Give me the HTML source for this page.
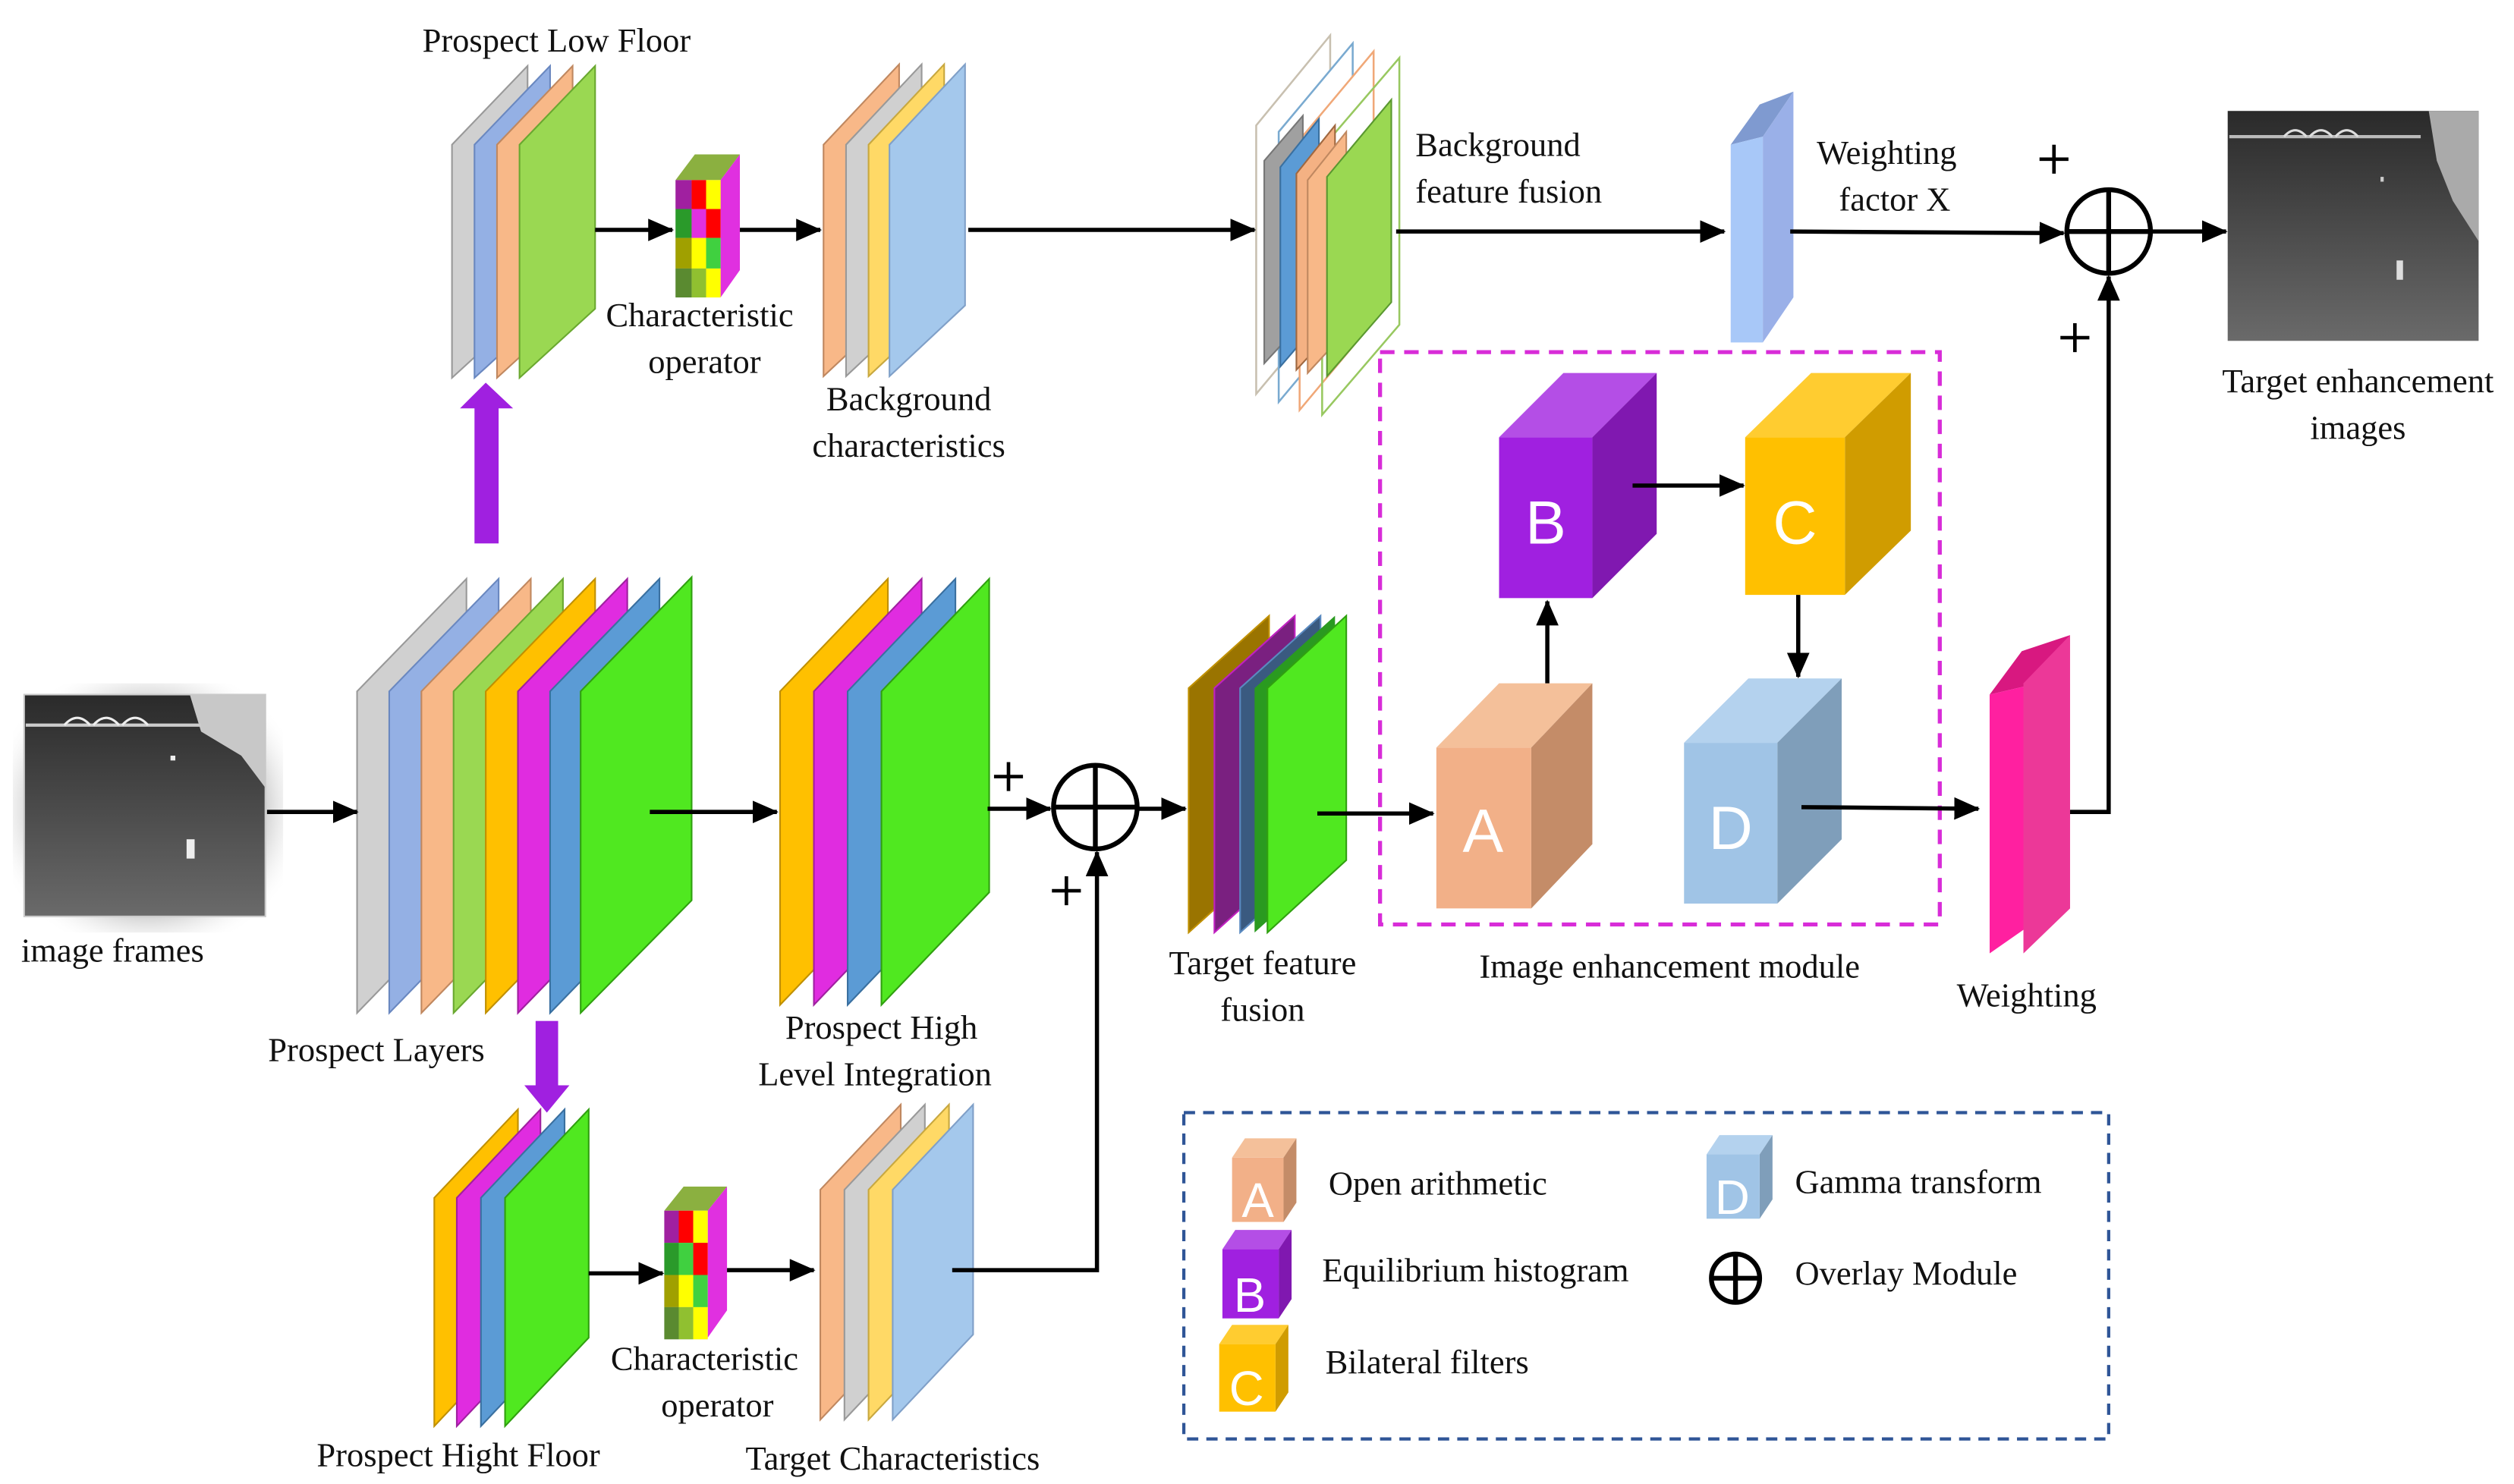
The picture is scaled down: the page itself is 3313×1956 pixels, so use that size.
<!DOCTYPE html>
<html><head><meta charset="utf-8"><style>
html,body{margin:0;padding:0;background:#fff}
svg{display:block}
.l text{font-family:"Liberation Serif","DejaVu Serif",serif;fill:#111;font-size:21px}
.c{font-family:"Liberation Sans","DejaVu Sans",sans-serif;fill:#fff;font-size:38px}
</style></head><body>
<svg width="3313" height="1956" viewBox="0 0 1563 923" preserveAspectRatio="none" xmlns="http://www.w3.org/2000/svg">
<defs>
<marker id="ah2" markerWidth="16" markerHeight="14" refX="15" refY="7" orient="auto" markerUnits="userSpaceOnUse"><path d="M0,0 L16,7 L0,14 z" fill="#000"/></marker>
<radialGradient id="sh" cx="50%" cy="50%" r="60%"><stop offset="70%" stop-color="#999" stop-opacity=".5"/><stop offset="100%" stop-color="#fff" stop-opacity="0"/></radialGradient>
<linearGradient id="img" x1="0" y1="0" x2="0" y2="1"><stop offset="0" stop-color="#2a2a2a"/><stop offset="1" stop-color="#6a6a6a"/></linearGradient>
</defs>
<rect width="1563" height="923" fill="#fff"/>

<!-- Prospect Low Floor -->
<g stroke-width="1">
<polygon points="281,235 281,90 328,41 328,192" fill="#d0d0d0" stroke="#999"/>
<polygon points="295,235 295,90 342,41 342,192" fill="#94b0e4" stroke="#6a88c0"/>
<polygon points="309,235 309,90 356,41 356,192" fill="#f8b888" stroke="#c08860"/>
<polygon points="323,235 323,90 370,41 370,192" fill="#9ad852" stroke="#6aa830"/>
</g>
<!-- Characteristic operator top -->
<g>
<polygon points="420,112 432,96 460,96 448,112" fill="#8bb040"/>
<polygon points="448,112 460,96 460,168 448,185" fill="#e030e0"/>
<rect x="420" y="112" width="28" height="73" fill="#ccc"/>
<rect x="420" y="112" width="10" height="18" fill="#a020a0"/><rect x="430" y="112" width="9" height="18" fill="#ff0000"/><rect x="439" y="112" width="9" height="18" fill="#ffff00"/>
<rect x="420" y="130" width="10" height="18" fill="#2a9a2a"/><rect x="430" y="130" width="9" height="18" fill="#e030e0"/><rect x="439" y="130" width="9" height="18" fill="#ff0000"/>
<rect x="420" y="148" width="10" height="19" fill="#a0a000"/><rect x="430" y="148" width="9" height="19" fill="#ffff00"/><rect x="439" y="148" width="9" height="19" fill="#40d040"/>
<rect x="420" y="167" width="10" height="18" fill="#5a8a30"/><rect x="430" y="167" width="9" height="18" fill="#90c030"/><rect x="439" y="167" width="9" height="18" fill="#ffff00"/>
</g>
<!-- Background characteristics -->
<polygon points="512,234 512,90 559,40 559,190" fill="#f8b888" stroke="#c08860"/>
<polygon points="526,234 526,90 573,40 573,190" fill="#d0d0d0" stroke="#999"/>
<polygon points="540,234 540,90 587,40 587,190" fill="#ffd966" stroke="#c8a840"/>
<polygon points="553,234 553,90 600,40 600,190" fill="#a4c8ec" stroke="#80a0c8"/>

<!-- Background feature fusion -->
<g fill="none" stroke-width="1.2">
<polygon points="781,245 781,78 827,22 827,190" stroke="#c8c0b0" fill="#fff"/>
<polygon points="795,250 795,82 841,27 841,195" stroke="#7aaad0" fill="#fff"/>
<polygon points="808,255 808,87 854,32 854,200" stroke="#f0a878" fill="#fff"/>
<polygon points="822,258 822,92 870,36 870,202" stroke="#98c860"/>
</g>
<polygon points="786,226 786,100 810,72 810,200" fill="#a0a0a0" stroke="#777"/>
<polygon points="796,228 796,104 820,74 820,200" fill="#5b9bd5" stroke="#3a70a0"/>
<polygon points="806,230 806,108 830,78 830,204" fill="#f4b183" stroke="#a06840"/>
<polygon points="813,232 813,112 837,82 837,206" fill="#f8b888" stroke="#c08860"/>
<polygon points="825,234 825,110 865,62 865,188" fill="#9ad852" stroke="#5a9830"/>

<!-- Weighting factor bar -->
<polygon points="1076,90 1094,65 1115,57 1096,85" fill="#7f9ad0"/>
<polygon points="1076,90 1096,85 1096,213 1076,213" fill="#a8c8f8"/>
<polygon points="1096,85 1115,57 1115,185 1096,213" fill="#9ab0e8"/>

<!-- Top right image -->
<rect x="1385" y="69" width="156" height="143" fill="url(#img)"/>
<polygon points="1510,69 1541,69 1541,150 1525,125 1515,100" fill="#aaa"/>
<path d="M1386,85 L1505,85" stroke="#bbb" stroke-width="2"/>
<path d="M1420,85 q7,-8 14,0 M1436,85 q7,-8 14,0 M1452,85 q7,-8 14,0" stroke="#ddd" fill="none" stroke-width="1.5"/>
<rect x="1490" y="162" width="4" height="12" fill="#ddd"/>
<rect x="1480" y="110" width="2" height="3" fill="#ccc"/>

<!-- Image frames -->
<rect x="8" y="425" width="168" height="155" fill="url(#sh)"/>
<rect x="15" y="432" width="150" height="138" fill="url(#img)" stroke="#ccc"/>
<polygon points="118,432 165,432 165,490 150,470 125,455" fill="#c8c8c8"/>
<path d="M16,451 L125,451" stroke="#ccc" stroke-width="2"/>
<path d="M40,451 q8,-9 16,0 M58,451 q8,-9 16,0 M76,451 q8,-9 16,0" stroke="#eee" fill="none" stroke-width="1.5"/>
<rect x="116" y="522" width="5" height="12" fill="#eee"/>
<rect x="106" y="470" width="3" height="3" fill="#eee"/>

<!-- Prospect Layers -->
<g>
<polygon points="222,630 222,430 290,360 290,560" fill="#d0d0d0" stroke="#999"/>
<polygon points="242,630 242,430 310,360 310,560" fill="#94b0e4" stroke="#6a88c0"/>
<polygon points="262,630 262,430 330,360 330,560" fill="#f8b888" stroke="#c08860"/>
<polygon points="282,630 282,430 350,360 350,560" fill="#9ad852" stroke="#6aa830"/>
<polygon points="302,630 302,430 370,360 370,560" fill="#ffc000" stroke="#c09000"/>
<polygon points="322,630 322,430 390,360 390,560" fill="#e02ce0" stroke="#a020a0"/>
<polygon points="342,630 342,430 410,360 410,560" fill="#5b9bd5" stroke="#3a70a0"/>
<polygon points="361,630 361,430 430,359 430,560" fill="#50e820" stroke="#30a010"/>
</g>
<!-- Prospect High Level Integration -->
<g>
<polygon points="485,625 485,430 552,360 552,555" fill="#ffc000" stroke="#c09000"/>
<polygon points="506,625 506,430 573,360 573,555" fill="#e02ce0" stroke="#a020a0"/>
<polygon points="527,625 527,430 594,360 594,555" fill="#5b9bd5" stroke="#3a70a0"/>
<polygon points="548,625 548,430 615,360 615,555" fill="#50e820" stroke="#30a010"/>
</g>
<!-- Target feature fusion -->
<g>
<polygon points="739,580 739,428 789,383 789,535" fill="#9a7400" stroke="#c09000"/>
<polygon points="755,580 755,428 805,383 805,535" fill="#7a2080" stroke="#c020c0"/>
<polygon points="771,580 771,428 821,383 821,535" fill="#3a5a80" stroke="#5a8ac0"/>
<polygon points="780,580 780,428 830,383 830,535" fill="#2a9a20"/>
<polygon points="788,580 788,428 837,383 837,535" fill="#50e820" stroke="#30a010"/>
</g>

<!-- Prospect Hight Floor -->
<polygon points="270,887 270,745 322,690 322,832" fill="#ffc000" stroke="#c09000"/>
<polygon points="284,887 284,745 336,690 336,832" fill="#e02ce0" stroke="#a020a0"/>
<polygon points="299,887 299,745 351,690 351,832" fill="#5b9bd5" stroke="#3a70a0"/>
<polygon points="314,887 314,745 366,690 366,832" fill="#50e820" stroke="#30a010"/>
<!-- Characteristic operator bottom -->
<g>
<polygon points="413,753 425,738 452,738 440,753" fill="#8bb040"/>
<polygon points="440,753 452,738 452,815 440,832" fill="#e030e0"/>
<rect x="413" y="753" width="27" height="80" fill="#ccc"/>
<rect x="413" y="753" width="9" height="20" fill="#a020a0"/><rect x="422" y="753" width="9" height="20" fill="#ff0000"/><rect x="431" y="753" width="9" height="20" fill="#ffff00"/>
<rect x="413" y="773" width="9" height="20" fill="#2a9a2a"/><rect x="422" y="773" width="9" height="20" fill="#40d040"/><rect x="431" y="773" width="9" height="20" fill="#ff0000"/>
<rect x="413" y="793" width="9" height="20" fill="#a0a000"/><rect x="422" y="793" width="9" height="20" fill="#ffff00"/><rect x="431" y="793" width="9" height="20" fill="#40d040"/>
<rect x="413" y="813" width="9" height="20" fill="#5a8a30"/><rect x="422" y="813" width="9" height="20" fill="#90c030"/><rect x="431" y="813" width="9" height="20" fill="#ffff00"/>
</g>
<!-- Target characteristics -->
<polygon points="510,883 510,740 560,687 560,830" fill="#f8b888" stroke="#c08860"/>
<polygon points="525,883 525,740 575,687 575,830" fill="#d0d0d0" stroke="#999"/>
<polygon points="540,883 540,740 590,687 590,830" fill="#ffd966" stroke="#c8a840"/>
<polygon points="555,883 555,740 605,687 605,830" fill="#a4c8ec" stroke="#80a0c8"/>

<!-- Dashed module box -->
<rect x="858" y="219" width="348" height="356" fill="none" stroke="#d82cd8" stroke-width="2.5" stroke-dasharray="9,6"/>

<!-- Cubes -->
<g>
<polygon points="932,272 972,232 1030,232 990,272" fill="#b44ee6"/>
<polygon points="990,272 1030,232 1030,332 990,372" fill="#8018b0"/>
<rect x="932" y="272" width="58" height="100" fill="#a020e0"/>
<text x="961" y="338" class="c" text-anchor="middle">B</text>

<polygon points="1085,272 1126,232 1188,232 1147,272" fill="#ffcc30"/>
<polygon points="1147,272 1188,232 1188,330 1147,370" fill="#d09c00"/>
<rect x="1085" y="272" width="62" height="98" fill="#ffc000"/>
<text x="1116" y="338" class="c" text-anchor="middle">C</text>

<polygon points="893,465 932,425 990,425 952,465" fill="#f4c09a"/>
<polygon points="952,465 990,425 990,525 952,565" fill="#c48c68"/>
<rect x="893" y="465" width="59" height="100" fill="#f2b088"/>
<text x="922" y="530" class="c" text-anchor="middle">A</text>

<polygon points="1047,462 1087,422 1145,422 1105,462" fill="#b4d2ee"/>
<polygon points="1105,462 1145,422 1145,522 1105,562" fill="#7f9eba"/>
<rect x="1047" y="462" width="58" height="100" fill="#a0c4e6"/>
<text x="1076" y="528" class="c" text-anchor="middle">D</text>
</g>

<!-- Weighting bar -->
<polygon points="1237,432 1257,405 1287,395 1267,425" fill="#d81880"/>
<polygon points="1237,432 1267,425 1267,572 1237,593" fill="#ff20a0"/>
<polygon points="1258,425 1287,395 1287,565 1258,593" fill="#ec3898"/>

<!-- Purple thick arrows -->
<rect x="295" y="252" width="15" height="86" fill="#a020e0"/>
<polygon points="286,254 302,238 319,254" fill="#a020e0"/>
<rect x="333" y="635" width="14" height="42" fill="#a020e0"/>
<polygon points="326,675 340,692 354,675" fill="#a020e0"/>

<!-- Arrows -->
<g stroke="#000" stroke-width="2.6" fill="none">
<line x1="370" y1="143" x2="418" y2="143" marker-end="url(#ah2)"/>
<line x1="460" y1="143" x2="510" y2="143" marker-end="url(#ah2)"/>
<line x1="602" y1="143" x2="780" y2="143" marker-end="url(#ah2)"/>
<line x1="868" y1="144" x2="1072" y2="144" marker-end="url(#ah2)"/>
<path d="M1113,144 L1283,145" marker-end="url(#ah2)"/>
<line x1="1338" y1="144" x2="1384" y2="144" marker-end="url(#ah2)"/>
<path d="M1287,505 L1311,505 L1311,172" marker-end="url(#ah2)"/>
<line x1="166" y1="505" x2="222" y2="505" marker-end="url(#ah2)"/>
<line x1="404" y1="505" x2="483" y2="505" marker-end="url(#ah2)"/>
<line x1="614" y1="503" x2="653" y2="503" marker-end="url(#ah2)"/>
<line x1="708" y1="503" x2="737" y2="503" marker-end="url(#ah2)"/>
<path d="M592,790 L682,790 L682,530" marker-end="url(#ah2)"/>
<line x1="819" y1="506" x2="891" y2="506" marker-end="url(#ah2)"/>
<line x1="962" y1="425" x2="962" y2="374" marker-end="url(#ah2)"/>
<line x1="1015" y1="302" x2="1084" y2="302" marker-end="url(#ah2)"/>
<line x1="1118" y1="370" x2="1118" y2="421" marker-end="url(#ah2)"/>
<path d="M1120,502 L1230,503" marker-end="url(#ah2)"/>
<line x1="366" y1="792" x2="412" y2="792" marker-end="url(#ah2)"/>
<line x1="452" y1="790" x2="506" y2="790" marker-end="url(#ah2)"/>
</g>
<!-- Overlay circles -->
<g stroke="#000" stroke-width="3" fill="none">
<circle cx="1311" cy="144" r="26"/><line x1="1285" y1="144" x2="1337" y2="144"/><line x1="1311" y1="118" x2="1311" y2="170"/>
<circle cx="681" cy="502" r="26"/><line x1="655" y1="502" x2="707" y2="502"/><line x1="681" y1="476" x2="681" y2="528"/>
</g>
<g stroke="#000" stroke-width="2.2">
<path d="M1268,99 h18 M1277,90 v18"/>
<path d="M1281,210 h18 M1290,201 v18"/>
<path d="M618,483 h18 M627,474 v18"/>
<path d="M654,554 h18 M663,545 v18"/>
</g>

<!-- Legend -->
<rect x="736" y="692" width="575" height="203" fill="none" stroke="#2f5597" stroke-width="2" stroke-dasharray="7,5"/>
<g>
<polygon points="766,720 774,708 806,708 798,720" fill="#f4c09a"/><polygon points="798,720 806,708 806,748 798,760" fill="#c48c68"/><rect x="766" y="720" width="32" height="40" fill="#f2b088"/><text x="782" y="757" class="c" style="font-size:30px" text-anchor="middle">A</text>
<polygon points="760,777 768,765 803,765 795,777" fill="#b44ee6"/><polygon points="795,777 803,765 803,808 795,820" fill="#8018b0"/><rect x="760" y="777" width="35" height="43" fill="#a020e0"/><text x="777" y="816" class="c" style="font-size:30px" text-anchor="middle">B</text>
<polygon points="758,836 766,824 801,824 793,836" fill="#ffcc30"/><polygon points="793,836 801,824 801,866 793,878" fill="#d09c00"/><rect x="758" y="836" width="35" height="42" fill="#ffc000"/><text x="775" y="874" class="c" style="font-size:30px" text-anchor="middle">C</text>
<polygon points="1061,718 1069,706 1102,706 1094,718" fill="#b4d2ee"/><polygon points="1094,718 1102,706 1102,746 1094,758" fill="#7f9eba"/><rect x="1061" y="718" width="33" height="40" fill="#a0c4e6"/><text x="1077" y="755" class="c" style="font-size:30px" text-anchor="middle">D</text>
<g stroke="#000" stroke-width="3" fill="none"><circle cx="1079" cy="795" r="15"/><line x1="1064" y1="795" x2="1094" y2="795"/><line x1="1079" y1="780" x2="1079" y2="810"/></g>
</g>
<g class="l" font-family="Liberation Serif, DejaVu Serif, serif" font-size="21" fill="#111">
<text x="826" y="743">Open arithmetic</text>
<text x="822" y="797">Equilibrium histogram</text>
<text x="824" y="854">Bilateral filters</text>
<text x="1116" y="742">Gamma transform</text>
<text x="1116" y="799">Overlay Module</text>

<text x="346" y="32" text-anchor="middle">Prospect Low Floor</text>
<text x="435" y="203" text-anchor="middle">Characteristic</text>
<text x="438" y="232" text-anchor="middle">operator</text>
<text x="565" y="255" text-anchor="middle">Background</text>
<text x="565" y="284" text-anchor="middle">characteristics</text>
<text x="880" y="97">Background</text>
<text x="880" y="126">feature fusion</text>
<text x="1173" y="102" text-anchor="middle">Weighting</text>
<text x="1178" y="131" text-anchor="middle">factor X</text>
<text x="1466" y="244" text-anchor="middle">Target enhancement</text>
<text x="1466" y="273" text-anchor="middle">images</text>
<text x="70" y="598" text-anchor="middle">image frames</text>
<text x="234" y="660" text-anchor="middle">Prospect Layers</text>
<text x="548" y="646" text-anchor="middle">Prospect High</text>
<text x="544" y="675" text-anchor="middle">Level Integration</text>
<text x="785" y="606" text-anchor="middle">Target feature</text>
<text x="785" y="635" text-anchor="middle">fusion</text>
<text x="1038" y="608" text-anchor="middle">Image enhancement module</text>
<text x="1260" y="626" text-anchor="middle">Weighting</text>
<text x="438" y="852" text-anchor="middle">Characteristic</text>
<text x="446" y="881" text-anchor="middle">operator</text>
<text x="285" y="912" text-anchor="middle">Prospect Hight Floor</text>
<text x="555" y="914" text-anchor="middle">Target Characteristics</text>
</g>
</svg>
</body></html>
